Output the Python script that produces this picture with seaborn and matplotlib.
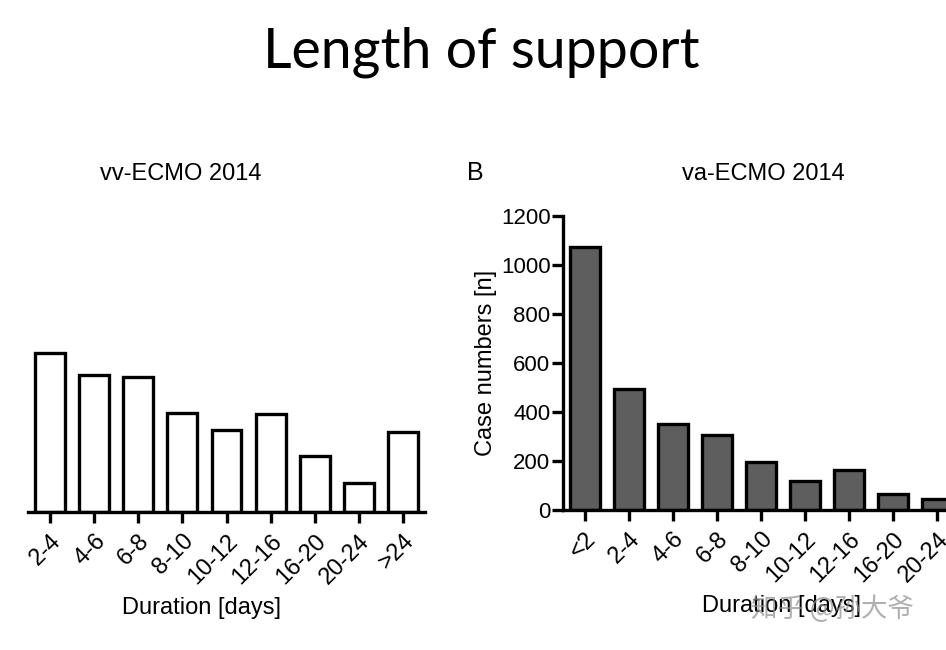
import matplotlib
matplotlib.use("Agg")
import matplotlib.pyplot as plt
import seaborn as sns
import pandas as pd

# data
vv_labels = ["2-4", "4-6", "6-8", "8-10", "10-12", "12-16", "16-20", "20-24", ">24"]
vv_counts = [650, 560, 550, 405, 335, 400, 230, 120, 325]

va_labels = ["<2", "2-4", "4-6", "6-8", "8-10", "10-12", "12-16", "16-20", "20-24", ">24"]
va_counts = [1075, 495, 350, 305, 195, 120, 165, 65, 45, 40]

sns.set_theme(style="white")
plt.rcParams["font.family"] = ["Liberation Sans", "DejaVu Sans"]
plt.rcParams.update({"text.color": "black", "axes.labelcolor": "black",
                     "xtick.color": "black", "ytick.color": "black"})

W, H = 946, 650
fig = plt.figure(figsize=(W / 100, H / 100), dpi=100)

LW = 2.4
FS = 17


def px_axes(left, bottom_y, width, top_y):
    # axes placed by pixel coordinates of the reference
    return fig.add_axes([left / W, (H - bottom_y) / H, width / W, (bottom_y - top_y) / H])


def style_axes(ax, labels, show_y):
    ax.set_xlim(-0.5, len(labels) - 0.5)
    ax.set_ylim(0, 1200)
    sns.despine(ax=ax, left=not show_y)
    for side in ["bottom", "left"]:
        ax.spines[side].set_linewidth(LW)
        ax.spines[side].set_color("black")
    ax.tick_params(axis="x", direction="out", length=8, width=LW,
                   labelsize=FS, pad=5, bottom=True)
    ax.set_xticks(range(len(labels)))
    ax.set_xticklabels(labels, rotation=45, ha="right", rotation_mode="anchor")
    ax.set_xlabel("Duration [days]", fontsize=FS)
    if show_y:
        ax.tick_params(axis="y", direction="out", length=8, width=LW,
                       labelsize=16, pad=1, left=True)
        ax.set_yticks(range(0, 1201, 200))
    else:
        ax.set_yticks([])
    ax.set_ylabel("")


# left panel: vv-ECMO (y axis cropped in the reference)
ax1 = px_axes(28, 512, 397, 218)
df_vv = pd.DataFrame({"dur": vv_labels, "n": vv_counts})
sns.barplot(data=df_vv, x="dur", y="n", ax=ax1, color="white", width=0.68,
            edgecolor="black", linewidth=LW, saturation=1)
style_axes(ax1, vv_labels, show_y=False)
ax1.xaxis.set_label_coords((201 - 28) / 397, -0.29)
ax1.set_title("vv-ECMO 2014", fontsize=FS, pad=27, x=(181 - 28) / 397)

# right panel: va-ECMO (runs past the right edge in the reference)
ax2 = px_axes(563, 510, 440, 216)
df_va = pd.DataFrame({"dur": va_labels, "n": va_counts})
sns.barplot(data=df_va, x="dur", y="n", ax=ax2, color="#5e5e5e", width=0.68,
            edgecolor="black", linewidth=LW, saturation=1)
style_axes(ax2, va_labels, show_y=True)
ax2.set_ylabel("Case numbers [n]", fontsize=FS, labelpad=3)
ax2.xaxis.set_label_coords(218 / 440, -0.29)
ax2.set_title("va-ECMO 2014", fontsize=FS, pad=26, x=200 / 440)

fig.text(475 / W, 1 - 173 / H, "B", fontsize=18, ha="center", va="center")
fig.text(481 / W, 1 - 52 / H, "Length of support", fontsize=40, ha="center", va="center",
         family=["Lato", "DejaVu Sans"])

# watermark
fig.text(832 / W, 1 - 609 / H, "知乎 @孙大爷", fontsize=19, ha="center", va="center",
         color="#8e8e8e", alpha=0.7, family=["Noto Sans CJK SC", "DejaVu Sans"])

fig.savefig("out.png", dpi=100)
